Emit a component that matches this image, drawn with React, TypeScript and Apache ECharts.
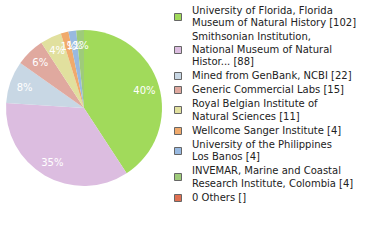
import React, { useEffect, useRef } from "react";
import * as echarts from "echarts";

const names = [
  "University of Florida, Florida\nMuseum of Natural History [102]",
  "Smithsonian Institution,\nNational Museum of Natural\nHistor... [88]",
  "Mined from GenBank, NCBI [22]",
  "Generic Commercial Labs [15]",
  "Royal Belgian Institute of\nNatural Sciences [11]",
  "Wellcome Sanger Institute [4]",
  "University of the Philippines\nLos Banos [4]",
  "INVEMAR, Marine and Coastal\nResearch Institute, Colombia [4]",
  "0 Others []",
];
const values = [102, 88, 22, 15, 11, 4, 4, 4, 0];
const colors = [
  "#a1da5b",
  "#dcbde0",
  "#c8d7e4",
  "#e0a99f",
  "#e1e09e",
  "#f0aa6c",
  "#98b9e0",
  "#9ecb7a",
  "#e07052",
];

const LEG_X = 174;
const LEG_TOP = 3.75;
const LINE_H = 12.5;
const ITEM_GAP = 1.5;
const ICON = 7;
const TEXT_X = 192;

export default function App() {
  const ref = useRef<HTMLDivElement>(null);
  useEffect(() => {
    const chart = echarts.init(ref.current!, undefined, { renderer: "svg" });
    const total = values.reduce((a, b) => a + b, 0);
    const data = names.map((n, i) => ({
      name: n,
      value: values[i],
      itemStyle: { color: colors[i] },
    }));
    const graphics: any[] = [];
    let y = LEG_TOP;
    names.forEach((n, i) => {
      const lines = n.split("\n").length;
      const h = lines * LINE_H;
      graphics.push({
        type: "rect",
        shape: { x: LEG_X + 0.5, y: Math.round(y + h / 2 - ICON / 2) + 0.5, width: ICON, height: ICON },
        style: { fill: colors[i], stroke: "#666", lineWidth: 1 },
        silent: true,
      });
      graphics.push({
        type: "text",
        x: TEXT_X,
        y: y,
        silent: true,
        style: {
          text: n,
          fill: "#222",
          font: "10px 'DejaVu Sans'",
          lineHeight: LINE_H,
          verticalAlign: "top",
          align: "left",
        },
      });
      y += h + ITEM_GAP;
    });
    chart.setOption({
      animation: false,
      graphic: graphics,
      series: [
        {
          type: "pie",
          center: [84, 108],
          radius: 78,
          startAngle: 90,
          clockwise: true,
          label: { show: false },
          labelLine: { show: false },
          silent: true,
          data,
        },
        {
          type: "pie",
          center: [84, 108],
          radius: [42, 78],
          startAngle: 90,
          clockwise: true,
          silent: true,
          avoidLabelOverlap: false,
          labelLayout: { hideOverlap: false },
          itemStyle: { color: "transparent", borderWidth: 0 },
          labelLine: { show: false },
          label: {
            show: true,
            position: "inside",
            color: "#fff",
            fontFamily: "DejaVu Sans",
            fontSize: 10,
            formatter: (p: any) =>
              p.value > 0 ? Math.floor((p.value / total) * 100) + "%" : "",
          },
          data: names.map((n, i) => ({
            name: n,
            value: values[i],
            itemStyle: { color: "transparent" },
          })),
        },
      ],
    });
    return () => chart.dispose();
  }, []);
  return (
    <div
      ref={ref}
      style={{ position: "fixed", left: 0, top: 0, width: 380, height: 240, background: "#fff" }}
    />
  );
}
